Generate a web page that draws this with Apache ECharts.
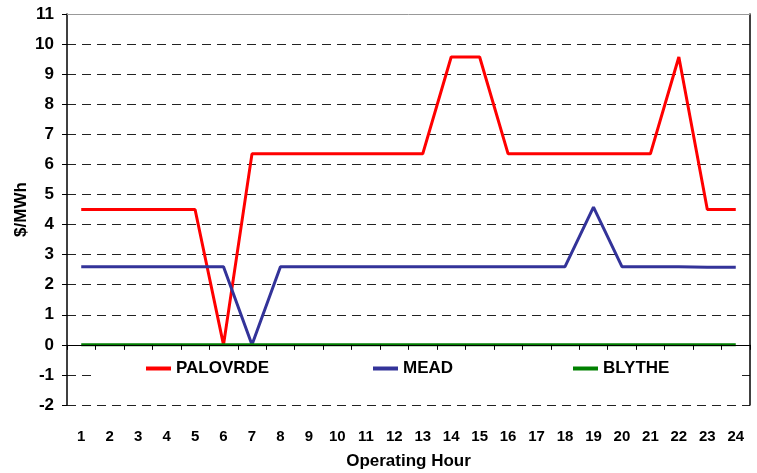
<!DOCTYPE html>
<html>
<head>
<meta charset="utf-8">
<script src="https://cdn.jsdelivr.net/npm/echarts@6/dist/echarts.min.js"></script>
<style>
  html, body { margin: 0; padding: 0; background: #fff; }
  #chart { width: 757px; height: 473px; }
</style>
</head>
<body>
<div id="chart"></div>
<script>
var hours = ['1','2','3','4','5','6','7','8','9','10','11','12','13','14','15','16','17','18','19','20','21','22','23','24'];
var palovrde = [4.5,4.5,4.5,4.5,4.5,0,6.35,6.35,6.35,6.35,6.35,6.35,6.35,9.57,9.57,6.35,6.35,6.35,6.35,6.35,6.35,9.57,4.5,4.5];
var mead = [2.6,2.6,2.6,2.6,2.6,2.6,0,2.6,2.6,2.6,2.6,2.6,2.6,2.6,2.6,2.6,2.6,2.6,4.58,2.6,2.6,2.6,2.58,2.58];
var blythe = [0,0,0,0,0,0,0,0,0,0,0,0,0,0,0,0,0,0,0,0,0,0,0,0];

var font = 'Liberation Sans, Arial, sans-serif';
var chart = echarts.init(document.getElementById('chart'));

function legendFor(name, left) {
  return {
    data: [name],
    left: left,
    top: 360,
    padding: 0,
    icon: 'rect',
    itemWidth: 25,
    itemHeight: 4,
    itemGap: 0,
    selectedMode: false,
    textStyle: { fontFamily: font, fontWeight: 'bold', fontSize: 17, color: '#000', padding: [0, 0, 0, 0] }
  };
}

var option = {
  animation: false,
  backgroundColor: '#fff',
  grid: { left: 67, right: 7, top: 14, bottom: 68, containLabel: false, outerBoundsMode: 'none' },
  legend: [legendFor('PALOVRDE', 146), legendFor('MEAD', 373), legendFor('BLYTHE', 573)],
  graphic: [{
    type: 'rect',
    left: 95, top: 355,
    shape: { width: 642, height: 38 },
    style: { fill: '#fff' },
    z: 3
  }],
  xAxis: [
    {
      type: 'category',
      data: hours,
      position: 'bottom',
      z: 5,
      name: 'Operating Hour',
      nameLocation: 'middle',
      nameGap: 48,
      nameMoveOverlap: false,
      nameTextStyle: { fontFamily: font, fontWeight: 'bold', fontSize: 17, color: '#000' },
      axisLine: { show: true, onZero: true, lineStyle: { color: '#000', width: 1 } },
      axisTick: { show: true, length: 5, interval: 0, lineStyle: { color: '#000' } },
      axisLabel: { interval: 0, margin: 24, fontFamily: font, fontWeight: 'bold', fontSize: 15, color: '#000' }
    },
    {
      type: 'category',
      data: hours,
      position: 'top',
      axisLine: { show: true, onZero: false, lineStyle: { color: '#999', width: 1 } },
      axisTick: { show: false },
      axisLabel: { show: false }
    }
  ],
  yAxis: [
    {
      type: 'value',
      min: -2, max: 11, interval: 1,
      name: '$/MWh',
      nameLocation: 'middle',
      nameGap: 37,
      nameMoveOverlap: false,
      nameTextStyle: { fontFamily: font, fontWeight: 'bold', fontSize: 17, color: '#000' },
      axisLine: { show: true, lineStyle: { color: '#000', width: 1.5 } },
      axisTick: { show: true, length: 5, lineStyle: { color: '#000' } },
      axisLabel: { margin: 13, fontFamily: font, fontWeight: 'bold', fontSize: 17, color: '#000' },
      splitLine: { show: true, lineStyle: { color: '#222', width: 1, type: [9, 6] } }
    },
    {
      type: 'value',
      min: -2, max: 11, interval: 1,
      position: 'right',
      axisLine: { show: true, lineStyle: { color: '#000', width: 1.5 } },
      axisTick: { show: false },
      axisLabel: { show: false },
      splitLine: { show: false }
    }
  ],
  series: [
    { name: 'PALOVRDE', type: 'line', data: palovrde, symbol: 'none', z: 4,
      itemStyle: { color: '#ff0000' }, lineStyle: { color: '#ff0000', width: 3 } },
    { name: 'MEAD', type: 'line', data: mead, symbol: 'none', z: 4,
      itemStyle: { color: '#333399' }, lineStyle: { color: '#333399', width: 3 } },
    { name: 'BLYTHE', type: 'line', data: blythe, symbol: 'none', z: 4,
      itemStyle: { color: '#008000' }, lineStyle: { color: '#008000', width: 3 } }
  ]
};

chart.setOption(option);
</script>
</body>
</html>
